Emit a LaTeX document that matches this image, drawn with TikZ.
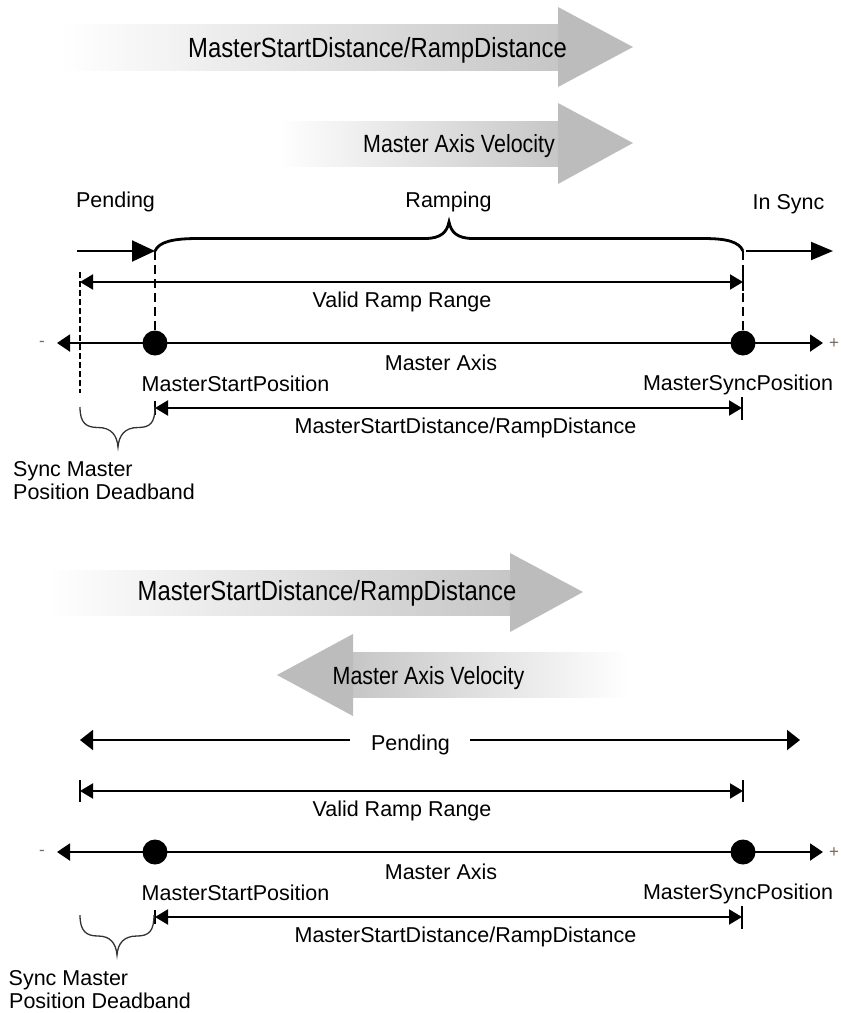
\documentclass[tikz,border=0pt]{standalone}
\usepackage{fontspec}
\setmainfont{Liberation Sans}
\usetikzlibrary{arrows.meta}
\definecolor{agray}{RGB}{188,188,188}
\definecolor{signgray}{RGB}{120,105,95}
\begin{document}
\begin{tikzpicture}[x=1pt,y=-1pt,
  lbl/.style={inner sep=0pt, anchor=base, font=\fontsize{21.5}{25}\selectfont},
  lblw/.style={lbl, anchor=base west},
  bigtext/.style={inner sep=0pt, anchor=base},
  ln/.style={line width=2pt},
  statearrow/.style={ln, -{Triangle[length=23pt,width=21pt]}},
  axisarrow/.style={ln, {Triangle[length=13pt,width=17pt]}-{Triangle[length=13pt,width=17pt]}},
  dimarrow/.style={ln, {Triangle[length=13pt,width=15pt]}-{Triangle[length=13pt,width=15pt]}},
  pendarrow/.style={ln, -{Triangle[length=13pt,width=20pt]}},
  tickbar/.style={line width=1.4pt},
  dot/.style={circle, fill=black, minimum size=25pt, inner sep=0pt},
  thickdash/.style={line width=2.6pt, dash pattern=on 9pt off 5pt},
  thindash/.style={line width=1.2pt, dash pattern=on 6pt off 3pt},
  bracket/.style={line width=2.8pt},
  smallbrace/.style={line width=1.3pt, draw=black!80},
  sign/.style={inner sep=0pt, text=signgray, font=\fontsize{17}{19}\selectfont}
]
\useasboundingbox (0,0) rectangle (841,1013);

% ---------- upper diagram: block arrows ----------
\shade[left color=white, right color=agray!85!white] (60,24) rectangle (558,70);
\fill[agray] (558,7) -- (633,47) -- (558,87) -- cycle;
\node[bigtext] (dirA) at (377.5,57)
  {\scalebox{0.86}[1]{\fontsize{27.7}{30}\selectfont MasterStartDistance/RampDistance}};

\shade[left color=white, right color=agray!85!white] (277,121) rectangle (558,166);
\fill[agray] (558,103) -- (633,143) -- (558,184) -- cycle;
\node[bigtext] (velA) at (459,152)
  {\scalebox{0.86}[1]{\fontsize{24.9}{28}\selectfont Master Axis Velocity}};

% ---------- upper diagram: states ----------
\node[lbl] (pendT) at (115.5,207) {Pending};
\node[lbl] (rampT) at (448.5,207) {Ramping};
\node[lbl] (syncT) at (788.5,209) {In Sync};

\coordinate (pendA) at (77,251);
\coordinate (startA) at (155,251);
\coordinate (endA) at (743,251);
\coordinate (isA) at (746,251);
\coordinate (isB) at (833,251);
\draw[statearrow] (pendA) -- (startA);
\draw[statearrow, -{Triangle[length=22pt,width=18pt]}] (isA) -- (isB);
\draw[bracket] (startA) .. controls (159,242) and (172,238.5) .. (198,238.5)
  -- (425,238.5) .. controls (441,238.5) and (447,232) .. (449,222)
  .. controls (451,232) and (457,238.5) .. (473,238.5)
  -- (703,238.5) .. controls (728,238.5) and (739,242) .. (endA);

% ---------- upper diagram: axis ----------
\coordinate (vrL) at (80,282);
\coordinate (vrR) at (743,282);
\draw[dimarrow] (vrL) -- (vrR);
\draw[tickbar] (vrR) ++(0,-9) -- ++(0,18);
\coordinate (dbTop) at (80,272);
\coordinate (dbBot) at (80,393);
\draw[thindash] (dbTop) -- (dbBot);
\node[lbl] (vrT) at (402,307) {Valid Ramp Range};

\node[dot] (mstart) at (155,343) {};
\node[dot] (msync) at (743,343) {};
\coordinate (axL) at (57,343);
\coordinate (axR) at (823,343);
\draw[axisarrow] (axL) -- (axR);
\draw[thickdash] (startA) -- (mstart.north);
\draw[thickdash] (endA) -- (msync.north);
\node[sign] (minusA) at (42,344) {-};
\node[sign] (plusA) at (834,344) {+};
\node[lbl] (axT) at (441,370) {Master Axis};
\node[lbl] (mspT) at (235.5,391) {MasterStartPosition};
\node[lbl] (msyT) at (738,390) {MasterSyncPosition};

\coordinate (mdL) at (155,408);
\coordinate (mdR) at (742,408);
\draw[dimarrow] (mdL) -- (mdR);
\draw[tickbar] (mdL) ++(0,-7) -- ++(0,14);
\draw[tickbar] (mdR) ++(0,-11) -- ++(0,23);
\node[lbl] (mdT) at (465.5,433) {MasterStartDistance/RampDistance};

\coordinate (sbL) at (80,407);
\coordinate (sbR) at (155,407);
\coordinate (sbTip) at (118,447);
\draw[smallbrace] (sbL) .. controls (80,423) and (86,427.5) .. (98,427.5)
  .. controls (111,427.5) and (117,435) .. (sbTip)
  .. controls (119,435) and (125,427.5) .. (138,427.5)
  .. controls (150,427.5) and (155,423) .. (sbR);
\node[lblw] (sbT1) at (13,476) {Sync Master};
\node[lblw] (sbT2) at (13,499) {Position Deadband};

% ---------- lower diagram: block arrows ----------
\shade[left color=white, right color=agray!85!white] (46,570) rectangle (510,615);
\fill[agray] (510,553) -- (583,592) -- (510,632) -- cycle;
\node[bigtext] (dirB) at (327,600)
  {\scalebox{0.86}[1]{\fontsize{27.7}{30}\selectfont MasterStartDistance/RampDistance}};

\shade[left color=agray!85!white, right color=white] (353,652) rectangle (629,697);
\fill[agray] (353,634) -- (277,675) -- (353,716) -- cycle;
\node[bigtext] (velB) at (428.5,684)
  {\scalebox{0.86}[1]{\fontsize{24.9}{28}\selectfont Master Axis Velocity}};

% ---------- lower diagram: pending ----------
\coordinate (pbL) at (80,740);
\coordinate (pbLm) at (350,740);
\coordinate (pbRm) at (470,740);
\coordinate (pbR) at (800,740);
\draw[pendarrow] (pbLm) -- (pbL);
\draw[pendarrow] (pbRm) -- (pbR);
\node[lbl] (pendB) at (410.5,750) {Pending};

% ---------- lower diagram: axis ----------
\begin{scope}[yshift=-509pt]
\coordinate (vrL2) at (80,282);
\coordinate (vrR2) at (743,282);
\draw[dimarrow] (vrL2) -- (vrR2);
\draw[tickbar] (vrL2) ++(0,-11) -- ++(0,22);
\draw[tickbar] (vrR2) ++(0,-11) -- ++(0,22);
\node[lbl] (vrT2) at (402,307) {Valid Ramp Range};

\node[dot] (mstart2) at (155,343) {};
\node[dot] (msync2) at (743,343) {};
\coordinate (axL2) at (57,343);
\coordinate (axR2) at (823,343);
\draw[axisarrow] (axL2) -- (axR2);
\node[sign] (minusB) at (42,344) {-};
\node[sign] (plusB) at (834,344) {+};
\node[lbl] (axT2) at (441,370) {Master Axis};
\node[lbl] (mspT2) at (235.5,391) {MasterStartPosition};
\node[lbl] (msyT2) at (738,390) {MasterSyncPosition};

\coordinate (mdL2) at (155,408);
\coordinate (mdR2) at (742,408);
\draw[dimarrow] (mdL2) -- (mdR2);
\draw[tickbar] (mdL2) ++(0,-7) -- ++(0,14);
\draw[tickbar] (mdR2) ++(0,-11) -- ++(0,23);
\node[lbl] (mdT2) at (465.5,433) {MasterStartDistance/RampDistance};

\coordinate (sbL2) at (80,406);
\coordinate (sbR2) at (154,406);
\coordinate (sbTip2) at (117,446);
\draw[smallbrace] (sbL2) .. controls (80,422) and (86,427) .. (98,427)
  .. controls (110,427) and (116,434) .. (sbTip2)
  .. controls (118,434) and (124,427) .. (137,427)
  .. controls (149,427) and (154,422) .. (sbR2);
\node[lblw] (sbT3) at (8.5,476) {Sync Master};
\node[lblw] (sbT4) at (9,499) {Position Deadband};
\end{scope}
\end{tikzpicture}
\end{document}
